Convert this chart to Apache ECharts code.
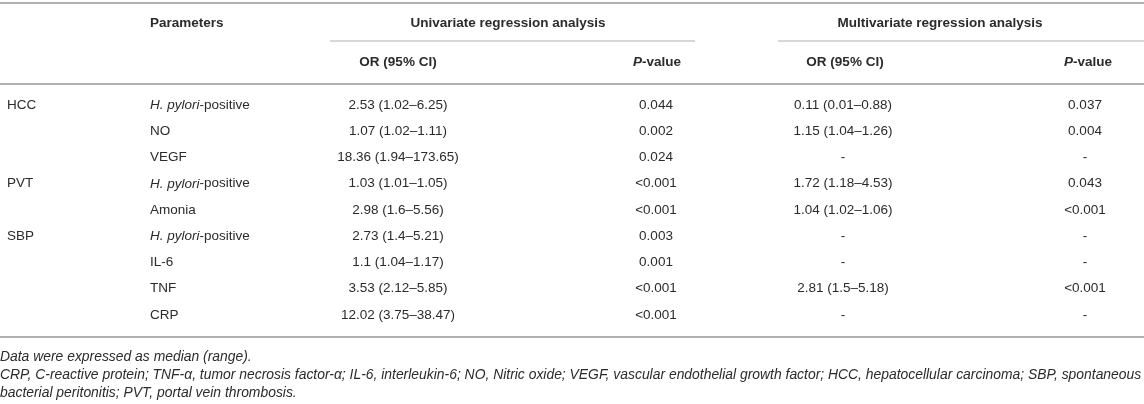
<!DOCTYPE html>
<html>
<head>
<meta charset="utf-8">
<script src="https://cdn.jsdelivr.net/npm/echarts@6/dist/echarts.min.js"></script>
<style>
  html, body { margin: 0; padding: 0; background: #fff; }
  #table { width: 1144px; height: 404px; }
</style>
</head>
<body>
<div id="table"></div>
<script>
// table content
var groups = ['HCC', '', '', 'PVT', '', 'SBP', '', '', ''];
var params = ['H. pylori-positive', 'NO', 'VEGF', 'H. pylori-positive', 'Amonia',
              'H. pylori-positive', 'IL-6', 'TNF', 'CRP'];
var uniOR = ['2.53 (1.02–6.25)', '1.07 (1.02–1.11)', '18.36 (1.94–173.65)', '1.03 (1.01–1.05)',
             '2.98 (1.6–5.56)', '2.73 (1.4–5.21)', '1.1 (1.04–1.17)', '3.53 (2.12–5.85)', '12.02 (3.75–38.47)'];
var uniP = ['0.044', '0.002', '0.024', '<0.001', '<0.001', '0.003', '0.001', '<0.001', '<0.001'];
var multiOR = ['0.11 (0.01–0.88)', '1.15 (1.04–1.26)', '-', '1.72 (1.18–4.53)', '1.04 (1.02–1.06)',
               '-', '-', '2.81 (1.5–5.18)', '-'];
var multiP = ['0.037', '0.004', '-', '0.043', '<0.001', '-', '-', '<0.001', '-'];
var footnotes = [
    'Data were expressed as median (range).',
    'CRP, C-reactive protein; TNF-α, tumor necrosis factor-α; IL-6, interleukin-6; NO, Nitric oxide; VEGF, vascular endothelial growth factor; HCC, hepatocellular carcinoma; SBP, spontaneous',
    'bacterial peritonitis; PVT, portal vein thrombosis.'
];

var W = 1144;
var font = '"Liberation Sans", Arial, Helvetica, sans-serif';
var ink = '#2b2b2b';
var rule = '#b0b0b0';
var bodySize = 13.5;
// column anchors (x) and alignment
var cols = [
    { x: 7, align: 'left' },
    { x: 150, align: 'left' },
    { x: 398, align: 'center' },
    { x: 656, align: 'center' },
    { x: 843, align: 'center' },
    { x: 1085, align: 'center' }
];

var chart = echarts.init(document.getElementById('table'), null, { renderer: 'canvas' });

function cellText(str, col, pos) {
    var rich = { i: { fontStyle: 'italic', fontSize: bodySize, fontFamily: font, fill: ink } };
    var txt = str;
    if (str.indexOf('H. pylori') === 0) {
        txt = '{i|H. pylori}' + str.slice('H. pylori'.length);
    }
    return {
        type: 'text',
        x: pos[0], y: pos[1],
        style: {
            text: txt, rich: rich,
            fill: ink, fontSize: bodySize, fontFamily: font,
            align: col.align, verticalAlign: 'middle'
        }
    };
}

function hText(str, x, y, align) {
    return {
        type: 'text', x: x, y: y,
        style: {
            text: str, fill: ink, fontSize: 13.5, fontWeight: 'bold', fontFamily: font,
            align: align || 'center', verticalAlign: 'middle',
            rich: { pi: { fontStyle: 'italic', fontWeight: 'bold', fontSize: 13.5, fontFamily: font, fill: ink } }
        }
    };
}

function hLine(x1, x2, y, w) {
    return {
        type: 'line',
        shape: { x1: x1, y1: y, x2: x2, y2: y },
        style: { stroke: rule, lineWidth: w || 1 }
    };
}

var rows = params.map(function (p, i) { return [0, i]; });

var option = {
    backgroundColor: '#fff',
    animation: false,
    grid: { left: 0, right: 0, top: 92, bottom: 76 },
    xAxis: { type: 'value', min: 0, max: W, show: false },
    yAxis: { type: 'value', min: -0.5, max: params.length - 0.5, inverse: true, show: false },
    graphic: [
        hLine(0, W, 3, 2),
        hText('Parameters', 150, 23, 'left'),
        hText('Univariate regression analysis', 508, 23),
        hText('Multivariate regression analysis', 940, 23),
        hLine(330, 695, 41, 1),
        hLine(778, W, 41, 1),
        hText('OR (95% CI)', 398, 62),
        hText('{pi|P}-value', 657, 62),
        hText('OR (95% CI)', 845, 62),
        hText('{pi|P}-value', 1088, 62),
        hLine(0, W, 84, 2),
        hLine(0, W, 337, 2)
    ].concat(footnotes.map(function (f, k) {
        return {
            type: 'text', x: 0, y: 357 + k * 18,
            style: {
                text: f, fill: ink, fontSize: 13.9, fontStyle: 'italic', fontFamily: font,
                align: 'left', verticalAlign: 'middle'
            }
        };
    })),
    series: [{
        type: 'custom',
        coordinateSystem: 'cartesian2d',
        data: rows,
        renderItem: function (p, api) {
            var i = api.value(1);
            var vals = [groups[i], params[i], uniOR[i], uniP[i], multiOR[i], multiP[i]];
            var kids = vals.map(function (v, c) {
                var pos = api.coord([cols[c].x, i]);
                return cellText(v, cols[c], pos);
            });
            return { type: 'group', children: kids };
        }
    }]
};

chart.setOption(option);
</script>
</body>
</html>
